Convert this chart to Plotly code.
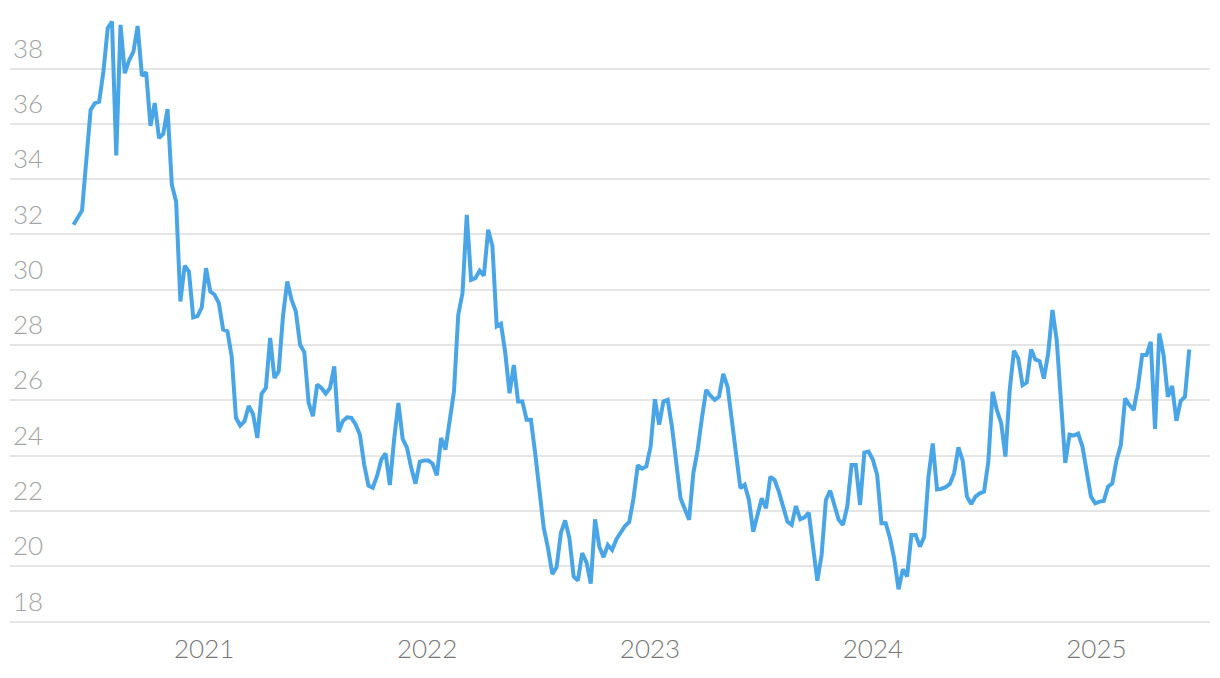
import pandas as pd
import plotly.graph_objects as go

start_date = "2020-06-01"
values = [
    32.35, 32.6, 32.87, 34.7, 36.5, 36.75, 36.8, 37.9, 39.46, 39.7,
    34.86, 39.58, 37.83, 38.3, 38.6, 39.54, 37.74, 37.86, 35.93, 36.75,
    35.48, 35.64, 36.53, 33.8, 33.19, 29.58, 30.87, 30.66, 29.0, 29.05,
    29.36, 30.78, 29.94, 29.82, 29.52, 28.56, 28.5, 27.59, 25.37, 25.09,
    25.25, 25.8, 25.5, 24.64, 26.24, 26.45, 28.26, 26.81, 27.05, 29.04,
    30.3, 29.64, 29.22, 28.01, 27.74, 25.91, 25.43, 26.57, 26.45, 26.24,
    26.45, 27.23, 24.86, 25.25, 25.39, 25.37, 25.13, 24.76, 23.68, 22.92,
    22.84, 23.26, 23.86, 24.08, 22.94, 24.59, 25.91, 24.61, 24.29, 23.56,
    22.99, 23.78, 23.83, 23.83, 23.71, 23.29, 24.64, 24.22, 25.18, 26.32,
    29.09, 29.88, 32.71, 30.36, 30.42, 30.69, 30.51, 32.17, 31.57, 28.68,
    28.77, 27.71, 26.26, 27.28, 25.96, 25.96, 25.3, 25.3, 24.09, 22.77,
    21.39, 20.66, 19.72, 19.96, 21.2, 21.66, 21.02, 19.63, 19.49, 20.48,
    20.14, 19.37, 21.7, 20.71, 20.33, 20.77, 20.59, 20.98, 21.25, 21.46,
    21.6, 22.46, 23.65, 23.53, 23.61, 24.33, 26.04, 25.12, 25.96, 26.02,
    25.05, 23.85, 22.46, 22.07, 21.68, 23.37, 24.21, 25.36, 26.38, 26.17,
    26.02, 26.14, 26.96, 26.5, 25.3, 24.03, 22.83, 22.95, 22.4, 21.25,
    21.92, 22.46, 22.1, 23.24, 23.12, 22.7, 22.16, 21.62, 21.5, 22.18,
    21.7, 21.77, 21.94, 20.71, 19.48, 20.41, 22.4, 22.74, 22.16, 21.68,
    21.5, 22.16, 23.66, 23.66, 22.22, 24.11, 24.15, 23.85, 23.3, 21.56,
    21.56, 21.02, 20.26, 19.17, 19.89, 19.63, 21.13, 21.13, 20.71, 21.07,
    23.24, 24.44, 22.78, 22.8, 22.86, 22.98, 23.37, 24.3, 23.82, 22.52,
    22.25, 22.52, 22.64, 22.7, 23.78, 26.31, 25.65, 25.18, 23.97, 26.38,
    27.8, 27.52, 26.55, 26.65, 27.84, 27.48, 27.42, 26.79, 27.7, 29.27,
    28.18, 26.01, 23.74, 24.76, 24.73, 24.8, 24.34, 23.44, 22.52, 22.28,
    22.34, 22.36, 22.88, 23.0, 23.84, 24.39, 26.07, 25.83, 25.65, 26.49,
    27.64, 27.64, 28.12, 24.97, 28.42, 27.64, 26.13, 26.52, 25.26, 25.98,
    26.13, 27.84,
]
dates = pd.date_range(start_date, periods=len(values), freq="7D")

year_ticks = ["2021-01-01", "2022-01-01", "2023-01-01", "2024-01-01", "2025-01-01"]
year_labels = ["2021", "2022", "2023", "2024", "2025"]
y_ticks = [18, 20, 22, 24, 26, 28, 30, 32, 34, 36, 38]

fig = go.Figure()
fig.add_trace(go.Scatter(
    x=dates, y=values, mode="lines",
    line=dict(color="#4aa5e6", width=4),
    hoverinfo="x+y", showlegend=False,
))

fig.update_layout(
    width=1204, height=662,
    margin=dict(l=2, r=2, t=8, b=47, autoexpand=False),
    paper_bgcolor="white", plot_bgcolor="white",
    font=dict(family="Lato, 'Open Sans', sans-serif"),
    xaxis=dict(
        range=["2020-02-18", "2025-07-06"],
        tickvals=year_ticks, ticktext=year_labels,
        showgrid=False, zeroline=False, showline=False,
        ticks="", tickfont=dict(size=26, color="#777777", weight=300),
        ticklabelstandoff=8, automargin=False,
    ),
    yaxis=dict(
        range=[17.95, 39.9],
        tickvals=y_ticks,
        showgrid=True, gridcolor="#e5e5e5", gridwidth=2,
        zeroline=False, showline=False, ticks="",
        ticklabelposition="inside",
        ticklabelshift=-20,
        ticklabelstandoff=0,
        ticklabeloverflow="allow",
        tickfont=dict(size=26, color="#a3a3a3", weight=300),
        automargin=False,
    ),
)

fig.write_html("out.html")
